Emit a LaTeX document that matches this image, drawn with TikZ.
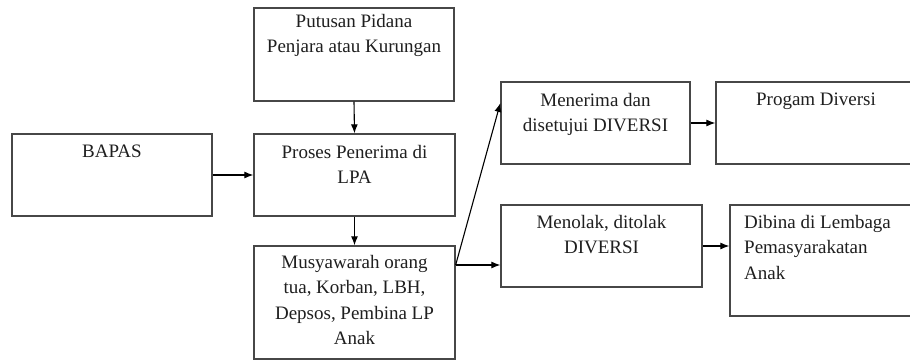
\documentclass[tikz,border=0pt]{standalone}
\usepackage{fontspec}
\setmainfont{Liberation Serif}
\usetikzlibrary{arrows.meta}
\begin{document}
\begin{tikzpicture}[x=1pt,y=-1pt,
  box/.style={draw=black!72, line width=1.3pt, rectangle, inner sep=0pt},
  txt/.style={inner sep=0pt, anchor=north, align=center, text=black!88,
    font=\fontsize{19}{25.5}\selectfont},
  ltxt/.style={txt, anchor=north west, align=left},
  conn/.style={draw=black, line width=1.1pt, -{Latex[length=9pt,width=7pt]}}]
\useasboundingbox (0,0) rectangle (910,361);
\fill[white] (0,0) rectangle (910,361);

% boxes
\node[box, minimum width=200pt, minimum height=93pt]  (putusan)  at (354,54.5) {};
\node[box, minimum width=200pt, minimum height=82pt]  (bapas)    at (112,175) {};
\node[box, minimum width=201pt, minimum height=82pt]  (proses)   at (354.5,175) {};
\node[box, minimum width=201pt, minimum height=113pt] (musy)     at (354.5,302.5) {};
\node[box, minimum width=189pt, minimum height=82pt]  (menerima) at (595.5,123) {};
\node[box, minimum width=200pt, minimum height=82pt]  (progam)   at (816,123) {};
\node[box, minimum width=201pt, minimum height=82pt]  (menolak)  at (601.5,246) {};
\node[box, minimum width=186pt, minimum height=111pt] (dibina)   at (823,260.5) {};

% labels
\node[txt] (tputusan)  at (354,14)  {Putusan Pidana\\Penjara atau Kurungan};
\node[txt] (tbapas)    at (112,145) {BAPAS};
\node[txt] (tproses)   at (354.5,145) {Proses Penerima di\\LPA};
\node[txt] (tmusy)     at (354.5,255) {Musyawarah orang\\tua, Korban, LBH,\\Depsos, Pembina LP\\Anak};
\node[txt] (tmenerima) at (595.5,93) {Menerima dan\\disetujui DIVERSI};
\node[txt] (tprogam)   at (816,93)  {Progam Diversi};
\node[txt] (tmenolak)  at (601.5,215) {Menolak, ditolak\\DIVERSI};
\node[ltxt] (tdibina)  at (744,215) {Dibina di Lembaga\\Pemasyarakatan\\Anak};

% connectors
\coordinate (fork) at (musy.east |- 0,265);
\coordinate (upin) at (menerima.west |- 0,103);
\draw[conn] (putusan.south) -- (proses.north);
\draw[conn] (bapas.east) -- (proses.west);
\draw[conn] (proses.south) -- (musy.north);
\draw[conn] (fork) -- (upin);
\draw[conn] (fork) -- (menolak.west |- fork);
\draw[conn] (menerima.east) -- (progam.west);
\draw[conn] (menolak.east) -- (dibina.west |- menolak.east);
\end{tikzpicture}
\end{document}
